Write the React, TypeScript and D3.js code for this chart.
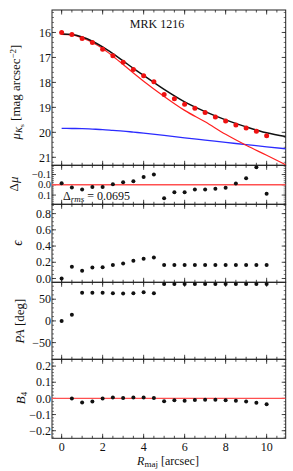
import * as d3 from 'd3'

// radii of the isophote fits [arcsec]
const radius = [0, 0.5, 1, 1.5, 2, 2.5, 3, 3.5, 4, 4.5, 5, 5.5, 6, 6.5, 7, 7.5, 8, 8.5, 9, 9.5, 10]
const mu = [16.0, 16.08, 16.24, 16.4, 16.67, 16.93, 17.19, 17.48, 17.73, 17.97, 18.48, 18.65, 18.87, 19.04, 19.21, 19.39, 19.55, 19.71, 19.83, 19.96, 20.14]
const dMu = [-0.015, 0.026, 0.045, 0.022, 0.022, -0.006, -0.025, -0.035, -0.076, -0.1, 0.13, 0.073, 0.073, 0.045, 0.045, 0.038, 0.029, -0.012, -0.063, -0.17, 0.086]
const ellip = [0.0, 0.145, 0.095, 0.137, 0.14, 0.165, 0.186, 0.218, 0.243, 0.26, 0.165, 0.165, 0.165, 0.165, 0.165, 0.165, 0.165, 0.165, 0.165, 0.165, 0.165]
const pa = [0, 14, 65, 65, 65, 64, 63, 64, 66, 64, 85, 85, 85, 85, 85, 85, 85, 85, 85, 85, 85]
// B4 starts at the second radius
const b4R = [0.5, 1, 1.5, 2, 2.5, 3, 3.5, 4, 4.5, 5, 5.5, 6, 6.5, 7, 7.5, 8, 8.5, 9, 9.5, 10]
const b4 = [0.0, -0.025, -0.019, 0.0, 0.006, 0.002, 0.006, 0.006, 0.002, -0.017, -0.012, -0.014, -0.01, -0.008, -0.008, -0.012, -0.014, -0.019, -0.027, -0.037]

// model curves
const modelR = [0, 0.5, 1, 1.5, 2, 2.5, 3, 3.5, 4, 5, 6, 7, 8, 9, 10, 10.93]
const totalModel = [16.06, 16.08, 16.18, 16.35, 16.58, 16.85, 17.14, 17.44, 17.72, 18.28, 18.78, 19.17, 19.5, 19.78, 20.02, 20.17]
const bulgeModel = [16.08, 16.1, 16.22, 16.4, 16.64, 16.95, 17.28, 17.62, 17.95, 18.56, 19.12, 19.58, 20.08, 20.52, 20.92, 21.3]
const diskModel = [19.84, 19.845, 19.85, 19.87, 19.89, 19.92, 19.95, 19.99, 20.03, 20.12, 20.22, 20.31, 20.4, 20.49, 20.58, 20.66]

const W = 293
const H = 471
const left = 52
const right = 285.7
const font = '"Liberation Serif", "DejaVu Serif", serif'

const x = d3.scaleLinear().domain([-0.47, 10.93]).range([left, right])

const panels = [
  { key: 'mu', top: 10, bottom: 165.3, domain: [15.1, 21.32], major: [16, 17, 18, 19, 20, 21], minorStep: 0.2, size: 12, fmt: (v: number) => String(v) },
  { key: 'dmu', top: 165.3, bottom: 204.3, domain: [-0.19, 0.19], major: [-0.1, 0, 0.1], minorStep: 0.02, size: 10.5, fmt: (v: number) => v.toFixed(1).replace('-', '−') },
  { key: 'eps', top: 204.3, bottom: 282.3, domain: [0.915, -0.047], major: [0, 0.2, 0.4, 0.6, 0.8], minorStep: 0.05, size: 12, fmt: (v: number) => v.toFixed(1) },
  { key: 'pa', top: 282.3, bottom: 359.3, domain: [89, -88.5], major: [-50, 0, 50], minorStep: 10, size: 12, fmt: (v: number) => String(v).replace('-', '−') },
  { key: 'b4', top: 359.3, bottom: 438.3, domain: [0.242, -0.247], major: [-0.2, -0.1, 0, 0.1, 0.2], minorStep: 0.02, size: 12, fmt: (v: number) => v.toFixed(1).replace('-', '−') },
]

const ys = panels.map(p => d3.scaleLinear().domain(p.domain).range([p.top, p.bottom]))

const xMajor = [0, 2, 4, 6, 8, 10]
const xMinor = d3.range(0, 10.6, 0.5)

function Panel({ i }: { i: number }) {
  const p = panels[i]
  const y = ys[i]
  const [lo, hi] = d3.extent(p.domain) as [number, number]
  const minor = d3.range(Math.ceil(lo / p.minorStep) * p.minorStep, hi, p.minorStep)
  return (
    <g>
      <rect x={left} y={p.top} width={right - left} height={p.bottom - p.top} fill="none" stroke="#222" strokeWidth={1} />
      {xMinor.map(v => (
        <g key={'xm' + v} stroke="#222" strokeWidth={0.8}>
          <line x1={x(v)} x2={x(v)} y1={p.top} y2={p.top + 2.5} />
          <line x1={x(v)} x2={x(v)} y1={p.bottom} y2={p.bottom - 2.5} />
        </g>
      ))}
      {xMajor.map(v => (
        <g key={'xM' + v} stroke="#222" strokeWidth={0.8}>
          <line x1={x(v)} x2={x(v)} y1={p.top} y2={p.top + 4.5} />
          <line x1={x(v)} x2={x(v)} y1={p.bottom} y2={p.bottom - 4.5} />
        </g>
      ))}
      {minor.map(v => (
        <g key={'ym' + v} stroke="#222" strokeWidth={0.6}>
          <line x1={left} x2={left + 2} y1={y(v)} y2={y(v)} />
          <line x1={right} x2={right - 2} y1={y(v)} y2={y(v)} />
        </g>
      ))}
      {p.major.map(v => (
        <g key={'yM' + v}>
          <line x1={left} x2={left + 4} y1={y(v)} y2={y(v)} stroke="#222" strokeWidth={0.8} />
          <line x1={right} x2={right - 4} y1={y(v)} y2={y(v)} stroke="#222" strokeWidth={0.8} />
          <text x={left - 1} y={y(v)} dy="0.35em" textAnchor="end" fontSize={p.size} fontFamily={font} fill="#111">{p.fmt(v)}</text>
        </g>
      ))}
    </g>
  )
}

export default function App() {
  const [yMu, yD, yE, yP, yB] = ys
  const clip = (i: number) => `url(#clip${i})`
  const curve = (vals: number[]) =>
    d3.line<number>().x((_, k) => x(modelR[k])).y(v => yMu(v)).curve(d3.curveMonotoneX)(vals) || ''

  return (
    <svg width={W} height={H} style={{ position: 'absolute', left: 0, top: 0, background: '#fff' }}>
      <defs>
        {panels.map((p, i) => (
          <clipPath id={'clip' + i} key={p.key}>
            <rect x={left} y={p.top} width={right - left} height={p.bottom - p.top} />
          </clipPath>
        ))}
      </defs>

      {panels.map((p, i) => <Panel key={p.key} i={i} />)}

      {/* surface brightness profile */}
      <g clipPath={clip(0)}>
        <path d={curve(diskModel)} fill="none" stroke="#2b2bff" strokeWidth={1.4} />
        <path d={curve(bulgeModel)} fill="none" stroke="#ff2020" strokeWidth={1.2} />
        <path d={curve(totalModel)} fill="none" stroke="#111" strokeWidth={1.5} />
        {radius.map((r, k) => (
          <circle key={k} cx={x(r)} cy={yMu(mu[k])} r={2.5} fill="#ee1111" />
        ))}
      </g>
      <text x={157} y={28} textAnchor="middle" fontSize={12} fontFamily={font} fill="#111">MRK 1216</text>

      {/* residuals */}
      <g clipPath={clip(1)}>
        <line x1={left} x2={right} y1={yD(0)} y2={yD(0)} stroke="#ff5050" strokeWidth={1.4} />
        {radius.map((r, k) => (
          <circle key={k} cx={x(r)} cy={yD(dMu[k])} r={2} fill="#111" />
        ))}
      </g>
      <text x={63} y={200} fontSize={12} fontFamily={font} fill="#111">
        Δ<tspan fontStyle="italic" fontSize={9} dy={2}>rms</tspan><tspan dy={-2}> = 0.0695</tspan>
      </text>

      {/* ellipticity */}
      <g clipPath={clip(2)}>
        {radius.map((r, k) => (
          <circle key={k} cx={x(r)} cy={yE(ellip[k])} r={2} fill="#111" />
        ))}
      </g>

      {/* position angle */}
      <g clipPath={clip(3)}>
        {radius.map((r, k) => (
          <circle key={k} cx={x(r)} cy={yP(pa[k])} r={2} fill="#111" />
        ))}
      </g>

      {/* B4 */}
      <g clipPath={clip(4)}>
        <line x1={left} x2={right} y1={yB(0)} y2={yB(0)} stroke="#ff5050" strokeWidth={1.4} />
        {b4R.map((r, k) => (
          <circle key={k} cx={x(r)} cy={yB(b4[k])} r={2} fill="#111" />
        ))}
      </g>

      {/* x tick labels */}
      {xMajor.map(v => (
        <text key={v} x={x(v)} y={451} textAnchor="middle" fontSize={12} fontFamily={font} fill="#111">{v}</text>
      ))}
      <text x={168} y={465} textAnchor="middle" fontSize={12} fontFamily={font} fill="#111">
        <tspan fontStyle="italic">R</tspan><tspan fontSize={9} dy={2}>maj</tspan><tspan dy={-2}> [arcsec]</tspan>
      </text>

      {/* y axis titles */}
      <text transform="translate(20,92) rotate(-90)" textAnchor="middle" fontSize={13} fontFamily={font} fill="#111">
        <tspan fontStyle="italic">μ</tspan><tspan fontStyle="italic" fontSize={9} dy={2}>K</tspan><tspan fontSize={7} dy={1.5}>s</tspan><tspan dy={-3.5}> [mag arcsec</tspan><tspan fontSize={9} dy={-4}>−2</tspan><tspan dy={4}>]</tspan>
      </text>
      <text transform="translate(18,184) rotate(-90)" textAnchor="middle" fontSize={13} fontFamily={font} fill="#111">
        Δ<tspan fontStyle="italic">μ</tspan>
      </text>
      <text transform="translate(22,243) rotate(-90)" textAnchor="middle" fontSize={14} fontFamily={font} fontStyle="italic" fill="#111">ϵ</text>
      <text transform="translate(24,321) rotate(-90)" textAnchor="middle" fontSize={13} fontFamily={font} fill="#111">
        <tspan fontStyle="italic">PA</tspan> [deg]
      </text>
      <text transform="translate(25,398) rotate(-90)" textAnchor="middle" fontSize={13} fontFamily={font} fill="#111">
        <tspan fontStyle="italic">B</tspan><tspan fontSize={9} dy={2}>4</tspan>
      </text>
    </svg>
  )
}
